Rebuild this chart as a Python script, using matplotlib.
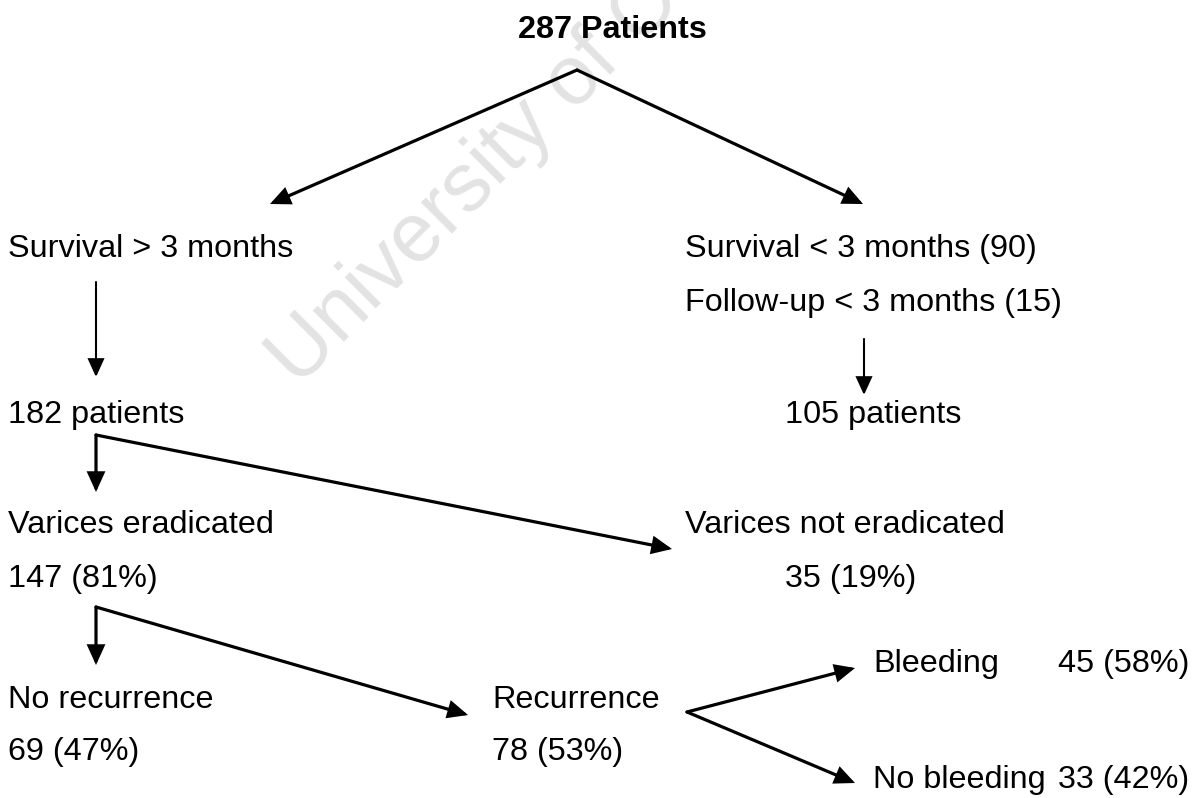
import matplotlib
matplotlib.use("Agg")
import matplotlib.pyplot as plt
from matplotlib.patches import ArrowStyle

plt.rcParams['font.family'] = ['Liberation Sans', 'DejaVu Sans']

# ---- data (node labels) ----
title = "287 Patients"
left_labels = ["Survival > 3 months", "182 patients", "Varices eradicated", "147 (81%)",
               "No recurrence", "69 (47%)"]
right_labels = ["Survival < 3 months (90)", "Follow-up < 3 months (15)", "105 patients",
                "Varices not eradicated", "35 (19%)"]
recur_labels = ["Recurrence", "78 (53%)"]
bleed_labels = ["Bleeding", "No bleeding"]
bleed_values = ["45 (58%)", "33 (42%)"]
watermark = "University of Cape Town"

W, H = 1198, 798
fig = plt.figure(figsize=(W / 100, H / 100), dpi=100)
ax = fig.add_axes([0, 0, 1, 1])
ax.set_xlim(0, W)
ax.set_ylim(H, 0)
ax.axis('off')

# watermark
ax.text(298, 388, watermark, fontsize=60, color='#e3e3e3', rotation=45,
        rotation_mode='anchor', ha='left', va='baseline', zorder=0, clip_on=True)

fs = 23.3
def T(x, y, s, **kw):
    ax.text(x, y, s, fontsize=fs, ha='left', va='baseline', color='black', zorder=3, **kw)

ax.text(612, 38, title, fontsize=fs, fontweight='bold', ha='center', va='baseline')

# left column
T(8, 257, left_labels[0])
T(8, 423, left_labels[1])
T(8, 533, left_labels[2])
T(8, 587, left_labels[3])
T(8, 708, left_labels[4])
T(8, 760, left_labels[5])

# right column
T(685, 257, right_labels[0])
T(685, 311, right_labels[1])
T(785, 423, right_labels[2])
T(685, 533, right_labels[3])
T(785, 587, right_labels[4])

# recurrence
T(492, 708, recur_labels[0])
T(492, 760, recur_labels[1])

# bleeding
T(873, 672, bleed_labels[0])
T(873, 788, bleed_labels[1])
T(1058, 672, bleed_values[0])
T(1058, 788, bleed_values[1])

def arrow(p0, p1, lw):
    ax.annotate("", xy=p1, xytext=p0,
                arrowprops=dict(arrowstyle=ArrowStyle('-|>', head_length=1.1, head_width=0.5),
                                mutation_scale=10, lw=lw, color='black',
                                shrinkA=0, shrinkB=0, joinstyle='miter'),
                zorder=2)

thin = 1.5
thick = 2.3
arrow((577, 70), (270, 204), thick)
arrow((577, 70), (863, 204), thick)
arrow((96, 282), (96, 377), thin)
arrow((864, 339), (864, 395), thin)
arrow((96, 435), (96, 492), thick)
arrow((96, 435), (672, 549), thick)
arrow((96, 607), (96, 665), thick)
arrow((96, 607), (468, 715), thick)
arrow((687, 712), (855, 668), thick)
arrow((687, 712), (855, 783), thick)

fig.savefig("out.png", dpi=100)
